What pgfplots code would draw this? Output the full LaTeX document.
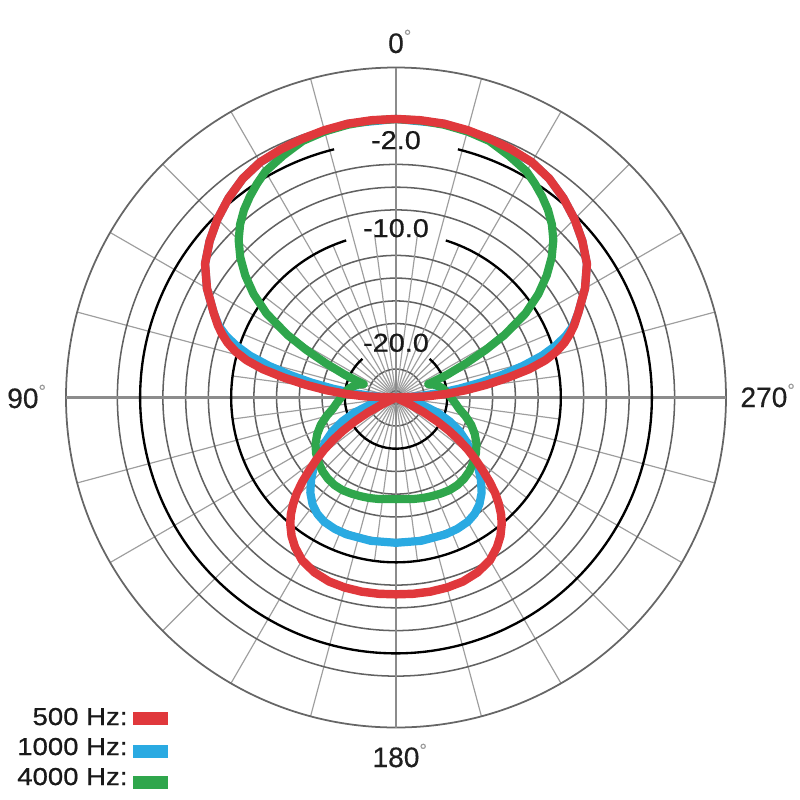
\documentclass[border=0pt]{standalone}
\usepackage{pgfplots}
\pgfplotsset{compat=1.18}
\usepgfplotslibrary{polar}
\usepackage{pgfplotstable}
\usepackage{fontspec}
\setmainfont{Liberation Sans}[FakeBold=0.5]
\newfontfamily\labelfont{Liberation Sans}[FakeStretch=1.12, FakeBold=0.6]
\newfontfamily\anglefont{Liberation Sans}[FakeBold=0.4]
\definecolor{cRed}{HTML}{E0383C}
\definecolor{cBlue}{HTML}{2AAAE2}
\definecolor{cGreen}{HTML}{2FA64C}

% angle a: 0 = front (top), counter-clockwise (90 = left); db = level in dB
\pgfplotstableread{
a db
-90 -24.5
-88 -21.86
-86 -20.10
-84 -18.34
-82 -16.50
-80 -14.56
-78 -12.54
-76 -10.96
-74 -9.81
-72 -8.93
-70 -8.23
-68 -7.61
-65 -6.80
-60 -5.30
-55 -4.00
-50 -3.10
-45 -2.30
-40 -1.60
-35 -1.00
-30 -0.60
-25 -0.44
-20 -0.30
-15 -0.16
-10 -0.05
-5 -0.02
0 0
5 -0.02
10 -0.05
15 -0.16
20 -0.30
25 -0.44
30 -0.60
35 -1.00
40 -1.60
45 -2.30
50 -3.10
55 -4.00
60 -5.30
65 -6.80
68 -7.61
70 -8.23
72 -8.93
74 -9.81
76 -10.96
78 -12.54
80 -14.56
82 -16.50
84 -18.34
86 -20.10
88 -21.86
90 -24.5
}\redfront
\pgfplotstableread{
a db
114 -24.5
116 -23.18
118 -21.77
120 -20.37
122 -19.05
124 -17.82
126 -16.67
128 -15.62
130 -14.56
132 -13.42
134 -12.36
136 -11.48
138 -10.69
140 -10.03
143 -9.24
146 -8.62
150 -7.97
155 -7.53
160 -7.28
165 -7.19
170 -7.16
175 -7.17
180 -7.19
185 -7.17
190 -7.16
195 -7.19
200 -7.28
205 -7.53
210 -7.97
214 -8.62
217 -9.24
220 -10.03
222 -10.69
224 -11.48
226 -12.36
228 -13.42
230 -14.56
232 -15.62
234 -16.67
236 -17.82
238 -19.05
240 -20.37
242 -21.77
244 -23.18
246 -24.5
}\redrear
\pgfplotstableread{
a db
-90 -24.5
-88 -23.53
-86 -22.21
-84 -20.63
-82 -18.87
-80 -16.94
-78 -15.00
-76 -12.98
-74 -11.13
-72 -9.72
-70 -8.58
-68 -7.70
-65 -6.80
-60 -5.30
-55 -4.00
-50 -3.10
-45 -2.30
-40 -1.60
-35 -1.00
-30 -0.60
-20 -0.30
-10 -0.05
0 0
10 -0.05
20 -0.30
30 -0.60
35 -1.00
40 -1.60
45 -2.30
50 -3.10
55 -4.00
60 -5.30
65 -6.80
68 -7.70
70 -8.58
72 -9.72
74 -11.13
76 -12.98
78 -15.00
80 -16.94
82 -18.87
84 -20.63
86 -22.21
88 -23.53
90 -24.5
}\bluefront
\pgfplotstableread{
a db
99 -24.5
102 -23.44
106 -22.04
110 -20.63
114 -19.31
118 -18.17
122 -17.20
126 -16.14
130 -15.09
134 -14.12
138 -13.24
142 -12.58
146 -12.14
150 -11.88
155 -11.75
160 -11.70
170 -11.70
180 -11.72
190 -11.70
200 -11.70
205 -11.75
210 -11.88
214 -12.14
218 -12.58
222 -13.24
226 -14.12
230 -15.09
234 -16.14
238 -17.20
242 -18.17
246 -19.31
250 -20.63
254 -22.04
258 -23.44
261 -24.5
}\bluerear
\pgfplotstableread{
a db
-67.5 -21.42
-66 -19.57
-64 -17.64
-62 -15.53
-60 -13.46
-57 -10.91
-54 -9.02
-51 -7.44
-48 -6.07
-45 -4.93
-42 -4.01
-39 -3.26
-36 -2.64
-33 -2.07
-30 -1.54
-25 -1.02
-20 -0.49
-15 -0.27
-10 -0.14
-5 -0.05
0 -0.01
5 -0.05
10 -0.14
15 -0.27
20 -0.49
25 -1.02
30 -1.54
33 -2.07
36 -2.64
39 -3.26
42 -4.01
45 -4.93
48 -6.07
51 -7.44
54 -9.02
57 -10.91
60 -13.46
62 -15.53
64 -17.64
66 -19.57
67.5 -21.42
}\greenfront
\pgfplotstableread{
a db
67.5 -21.42
72 -20.89
78 -20.37
84 -20.01
90 -19.66
96 -19.22
100 -18.87
105 -18.17
110 -17.46
115 -16.85
120 -16.32
125 -15.92
130 -15.62
135 -15.35
140 -15.18
145 -15.09
150 -15.09
155 -15.18
160 -15.27
165 -15.35
170 -15.44
175 -15.53
180 -15.56
185 -15.53
190 -15.44
195 -15.35
200 -15.27
205 -15.18
210 -15.09
215 -15.09
220 -15.18
225 -15.35
230 -15.62
235 -15.92
240 -16.32
245 -16.85
250 -17.46
255 -18.17
260 -18.87
264 -19.22
270 -19.66
276 -20.01
282 -20.37
288 -20.89
292.5 -21.42
}\greenrear

\begin{document}
\begin{tikzpicture}
\useasboundingbox (-59.4mm,-60.375mm) rectangle (60.6mm,59.625mm);
\begin{polaraxis}[
  at={(0,0)}, anchor=center,
  scale only axis, width=99mm, height=99mm,
  ymin=0, ymax=330,
  xtick={0,15,...,345},
  ytick={7,28.4,73.9,96.6,119.4,142.1,187.6,210.3,233.1,278.6},
  xticklabels={}, yticklabels={},
  major tick length=0pt,
  grid=major,
  major x grid style={black!38, line width=0.5pt},
  major y grid style={black!62, line width=0.65pt},
  axis line style={black!60, line width=0.75pt},
  clip=false,
  every axis plot/.append style={line cap=round, line join=round},
]
\pgfplotsinvokeforeach{7.5,22.5,...,352.5}{
  \draw[black!38, line width=0.5pt] (axis cs:#1,7) -- (axis cs:#1,164.8);
}
\draw[black!45, line width=1.0pt] (axis cs:0,330) -- (axis cs:180,330);
\draw[black!45, line width=1.0pt] (axis cs:90,330) -- (axis cs:270,330);
\draw[black, line width=1pt] (axis cs:104,255.8) arc[start angle=104, end angle=436, radius=38.37mm];
\draw[black, line width=1pt] (axis cs:107.6,164.8) arc[start angle=107.6, end angle=432.4, radius=24.72mm];
\draw[black, line width=1pt] (axis cs:131,51.2) arc[start angle=131, end angle=409, radius=7.68mm];

\addplot[cBlue, line width=3.5pt] table[x expr=\thisrow{a}+90, y expr={11.37*(\thisrow{db}+24.5)}] {\bluefront};
\addplot[cBlue, line width=3.5pt] table[x expr=\thisrow{a}+90, y expr={11.37*(\thisrow{db}+24.5)}] {\bluerear};
\addplot[cGreen, line width=3.5pt] table[x expr=\thisrow{a}+90, y expr={11.37*(\thisrow{db}+24.5)}] {\greenfront};
\addplot[cGreen, line width=3.5pt] table[x expr=\thisrow{a}+90, y expr={11.37*(\thisrow{db}+24.5)}] {\greenrear};
\addplot[cRed, line width=3.6pt] table[x expr=\thisrow{a}+90, y expr={11.37*(\thisrow{db}+24.5)}] {\redfront};
\addplot[cRed, line width=3.6pt] table[x expr=\thisrow{a}+90, y expr={11.37*(\thisrow{db}+24.5)}] {\redrear};
\end{polaraxis}

% ring labels
\node[font=\labelfont\fontsize{11}{13}\selectfont, text=black!90, inner sep=0] at (0,38.6mm) {-2.0};
\node[font=\labelfont\fontsize{11}{13}\selectfont, text=black!90, inner sep=0] at (0,25.4mm) {-10.0};
\node[font=\labelfont\fontsize{11}{13}\selectfont, text=black!90, inner sep=0] at (0,8.2mm) {-20.0};

% angle labels
\node[font=\anglefont\fontsize{12}{14}\selectfont, text=black!88, anchor=base, inner sep=0] at (0,51.68mm) {0\rlap{\textsuperscript{\color{black!40}°}}};
\node[font=\anglefont\fontsize{12}{14}\selectfont, text=black!88, anchor=base, inner sep=0] at (0,-55.43mm) {180\rlap{\textsuperscript{\color{black!40}°}}};
\node[font=\anglefont\fontsize{12}{14}\selectfont, text=black!88, anchor=base east, inner sep=0] at (-53.55mm,-1.575mm) {90\rlap{\textsuperscript{\color{black!40}°}}};
\node[font=\anglefont\fontsize{12}{14}\selectfont, text=black!88, anchor=base west, inner sep=0] at (51.6mm,-1.425mm) {270\rlap{\textsuperscript{\color{black!40}°}}};

% legend
\node[font=\labelfont\fontsize{10.5}{12}\selectfont, text=black!90, anchor=base east, inner sep=0] at (-40.2mm,-49.13mm) {500 Hz:};
\node[font=\labelfont\fontsize{10.5}{12}\selectfont, text=black!90, anchor=base east, inner sep=0] at (-40.2mm,-53.63mm) {1000 Hz:};
\node[font=\labelfont\fontsize{10.5}{12}\selectfont, text=black!90, anchor=base east, inner sep=0] at (-40.2mm,-58.13mm) {4000 Hz:};
\fill[cRed] (-39.45mm,-49.13mm) rectangle (-34.2mm,-47.18mm);
\fill[cBlue] (-39.45mm,-54.08mm) rectangle (-34.2mm,-52.13mm);
\fill[cGreen] (-39.45mm,-58.73mm) rectangle (-34.2mm,-56.78mm);
\end{tikzpicture}
\end{document}
